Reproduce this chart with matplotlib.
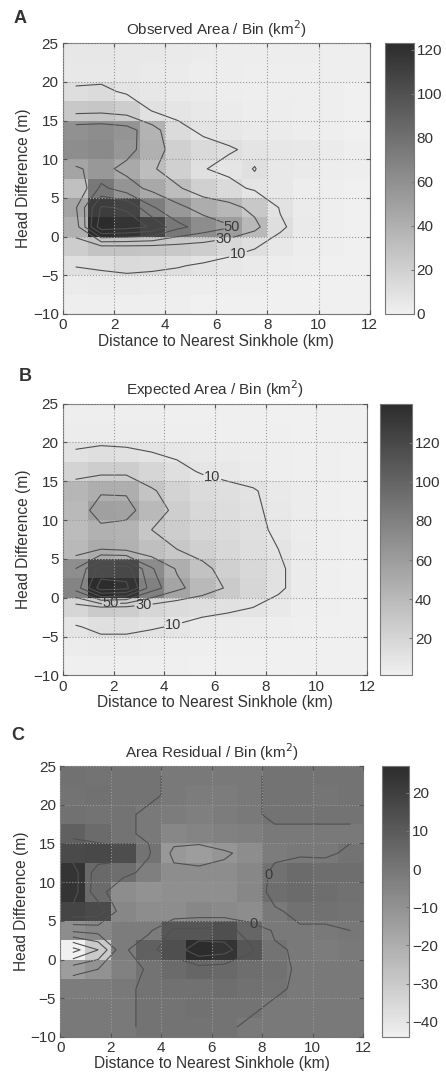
import numpy as np
import matplotlib
matplotlib.use("Agg")
import matplotlib.pyplot as plt
from matplotlib.colors import LinearSegmentedColormap

plt.rcParams['font.family'] = ['Liberation Sans', 'DejaVu Sans']
plt.rcParams['text.color'] = '#333333'
plt.rcParams['axes.labelcolor'] = '#333333'
plt.rcParams['xtick.color'] = '#555555'
plt.rcParams['ytick.color'] = '#555555'
plt.rcParams['xtick.labelcolor'] = '#333333'
plt.rcParams['ytick.labelcolor'] = '#333333'

# bin edges: distance (km) and head difference (m)
x_edges = np.arange(0, 13, 1.0)
y_edges = np.arange(-10, 27.5, 2.5)
x_mid = x_edges[:-1] + 0.5
y_mid = y_edges[:-1] + 1.25

# rows written top (22.5-25 m) to bottom (-10 to -7.5 m), 12 distance bins each
observed = [
    [6, 6, 5, 5, 4, 3, 2, 2, 2, 2, 1, 1],
    [5, 5, 5, 4, 3, 2, 2, 1, 1, 1, 1, 1],
    [12, 13, 8, 6, 4, 3, 2, 1, 1, 1, 1, 0],
    [25, 26, 22, 9.5, 7, 5, 3, 2, 2, 1, 1, 0],
    [60, 62, 58, 38, 13, 8, 6, 4, 3, 2, 1, 0],
    [62, 64, 56, 40, 20, 14, 11, 8, 6, 5, 3, 1],
    [48, 55, 45, 32, 20, 10.5, 7, 10.3, 5, 4, 2, 1],
    [30, 75, 58, 45, 32, 20, 14, 8, 5, 2, 1, 0],
    [48, 112, 108, 72, 55, 42, 36, 25, 9, 3, 1, 0],
    [40, 123, 118, 108, 75, 62, 52, 35, 12, 4, 1, 0],
    [22, 28, 28, 27, 25, 22, 15, 11, 5, 2, 1, 0],
    [10.5, 12, 14, 13, 11, 8, 6, 4, 2, 1, 0, 0],
    [3, 4, 4, 3, 2, 2, 1, 1, 0, 0, 0, 0],
    [1, 1, 1, 1, 1, 0, 0, 0, 0, 0, 0, 0],
]

expected = [
    [3, 3, 3, 3, 2, 2, 2, 2, 1, 1, 1, 1],
    [4, 4, 4, 4, 3, 3, 2, 2, 2, 1, 1, 1],
    [11, 13, 12, 10, 8, 6, 5, 4, 3, 2, 2, 1],
    [22, 26, 26, 20, 13, 9, 7, 5, 3, 2, 2, 1],
    [42, 48, 48, 32, 22, 16, 13, 11, 6, 4, 2, 1],
    [40, 58, 56, 40, 25, 18, 15, 12, 7, 4, 2, 1],
    [38, 46, 44, 30, 26, 20, 16, 13, 8, 4, 2, 1],
    [40, 50, 46, 36, 30, 24, 18, 14, 10, 5, 2, 1],
    [70, 118, 120, 72, 48, 34, 24, 18, 12, 5, 2, 1],
    [78, 140, 135, 80, 55, 40, 28, 20, 12, 5, 2, 1],
    [20, 28, 26, 20, 16, 14, 12, 10, 6, 3, 2, 1],
    [9, 13, 13, 11, 9, 6, 5, 4, 3, 2, 1, 1],
    [4, 5, 5, 4, 3, 3, 2, 2, 1, 1, 1, 1],
    [2, 2, 2, 2, 2, 1, 1, 1, 1, 1, 1, 1],
]

residual = [
    [2, 1, 1, 1, -1, -1, -1, -1, 1, 1, 1, 1],
    [1, 2, 1, 1, -1, -2, -2, -1, 1, 1, 0.5, 1],
    [2, 1, 1, -1, -2, -3, -2, -1, 1, 1, 1, 1],
    [8, 4, 1, -1, -6, -5, -4, -3, -1, -1, -1, -1],
    [16, 17, 15, 1, -12, -14, -11, -8, -2, -1, -1, 1],
    [24, 5, 3, -3, -8, -8, -8, -6, 2, 4, 3, 3],
    [24, 4, -8, -10, -9, -9, -9, -6, 3, 4, 3, 2],
    [18, 16, -6, -8, -8, -6, -7, -8, -1, 2, 2, 1],
    [-8, -6, -2, -2, 12, 12, 14, 6, -1, -1, -1, 0],
    [-44, -30, -2, 8, 14, 27, 24, 12, 1, -1, -2, -1],
    [-14, -10, -4, 1, 4, 6, 5, 3, 2, -1, -1, -1],
    [-2, -2, -1, 1, 2, 2, 3, 2, 1, -1, -1, -1],
    [-1, -1, -1, 1, 1, 2, 1, 1, -1, -1, -1, -1],
    [-1, -1, -1, 1, 1, 1, 1, -1, -1, -1, -1, -1],
]

titles = ["Observed Area / Bin (km$^2$)", "Expected Area / Bin (km$^2$)",
          "Area Residual / Bin (km$^2$)"]
letters = ["A", "B", "C"]
plain_levels = [[70, 90, 110], [70, 90, 110, 130], [-40, -30, -20, -10, 10, 20]]
label_levels = [[10, 30, 50], [10, 30, 50], [0]]
cbar_ticks = [np.arange(0, 121, 20), np.arange(20, 121, 20), np.arange(-40, 21, 10)]
label_spots = [
    [(6.9, -2.8), (6.3, -0.5), (6.7, 1.7)],
    [(5.9, 15.6), (4.3, -2.8), (3.2, -1.6), (1.9, -0.9)],
    [(8.4, 10.9), (7.6, 4.1)],
]

# layout in figure fractions (figure is 446 x 1079 px)
ax_boxes = [[0.141, 0.709, 0.688, 0.251], [0.141, 0.374, 0.682, 0.252],
            [0.135, 0.039, 0.679, 0.251]]
cb_boxes = [[0.863, 0.709, 0.065, 0.251], [0.852, 0.374, 0.072, 0.252],
            [0.857, 0.039, 0.061, 0.251]]
letter_pos = [(0.045, 0.991), (0.056, 0.659), (0.040, 0.326)]

cmap = LinearSegmentedColormap.from_list("scan_gray", ["#f0f0f0", "#2c2c2c"])

fig = plt.figure(figsize=(4.46, 10.79), dpi=100)

for i, data in enumerate([observed, expected, residual]):
    Z = np.array(data, dtype=float)[::-1]
    ax = fig.add_axes(ax_boxes[i])
    mesh = ax.pcolormesh(x_edges, y_edges, Z, cmap=cmap, vmin=Z.min(), vmax=Z.max(),
                         shading='flat')
    ax.contour(x_mid, y_mid, Z, levels=plain_levels[i], colors='#505050',
               linewidths=0.8, linestyles='solid')
    cs = ax.contour(x_mid, y_mid, Z, levels=label_levels[i], colors='#505050',
                    linewidths=0.8, linestyles='solid')
    ax.clabel(cs, manual=label_spots[i], fmt='%d', fontsize=10.5, inline=True,
              inline_spacing=1, colors='#3a3a3a')
    for t in cs.labelTexts:
        t.set_rotation(0)
    ax.set_xlim(0, 12)
    ax.set_ylim(-10, 25)
    ax.set_xticks(np.arange(0, 13, 2))
    ax.set_yticks(np.arange(-10, 26, 5))
    ax.grid(True, color='#9a9a9a', linestyle=':', linewidth=0.8)
    ax.set_axisbelow(False)
    ax.tick_params(direction='in', top=True, right=True, length=3, labelsize=11, pad=3)
    for s in ax.spines.values():
        s.set_color('#777777')
        s.set_linewidth(0.8)
    ax.set_title(titles[i], fontsize=11, pad=6)
    ax.set_xlabel("Distance to Nearest Sinkhole (km)", fontsize=11.2, labelpad=1)
    ax.set_ylabel("Head Difference (m)", fontsize=11.2, labelpad=1)
    fig.text(letter_pos[i][0], letter_pos[i][1], letters[i], fontsize=13,
             fontweight='bold', ha='center', va='top')

    cax = fig.add_axes(cb_boxes[i])
    cb = fig.colorbar(mesh, cax=cax)
    cb.set_ticks(cbar_ticks[i])
    cb.ax.tick_params(direction='in', length=2, labelsize=11, color='#777777', pad=2)
    cb.outline.set_edgecolor('#777777')
    cb.outline.set_linewidth(0.8)

fig.savefig("out.png", dpi=100)
